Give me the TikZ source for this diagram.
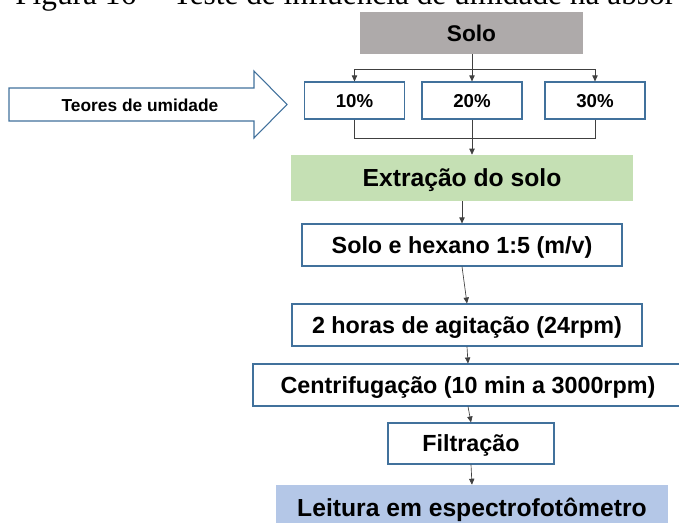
\documentclass[tikz,border=0pt]{standalone}
\usepackage{fontspec}
\setmainfont{Liberation Sans}
\newfontfamily\capfont{Liberation Serif}
\usetikzlibrary{arrows.meta}
\definecolor{boxblue}{RGB}{65,113,156}
\definecolor{sologray}{RGB}{174,170,170}
\definecolor{extgreen}{RGB}{197,224,180}
\definecolor{leitblue}{RGB}{180,199,231}
\begin{document}
\begin{tikzpicture}[x=0.75pt,y=-0.75pt,
  stepbox/.style={draw=boxblue,line width=0.8pt,fill=white,inner sep=0pt,text height=12.6pt,text depth=0pt,font=\bfseries\fontsize{17.5pt}{20pt}\selectfont},
  headbox/.style={inner sep=0pt,text height=13.3pt,text depth=0pt,font=\bfseries\fontsize{18.5pt}{21pt}\selectfont},
  pctbox/.style={stepbox,minimum width=75pt,minimum height=27.75pt,text height=10.1pt,font=\bfseries\fontsize{14pt}{16pt}\selectfont},
  conn/.style={black!75,line width=0.5pt},
  tip/.style={conn,-{Triangle[length=4.5pt,width=4pt]}}]
  \useasboundingbox (0,0) rectangle (679,522);
  \clip (0,0) rectangle (679,522);
  % caption
  \node[anchor=base west,inner sep=0pt,font=\capfont\fontsize{23.5pt}{26pt}\selectfont] (cap) at (15,4.5) {Figura 16 -- Teste de influência de umidade na absor};
  \node[headbox,fill=sologray,minimum width=167.25pt,minimum height=31.5pt,text height=12.2pt,font=\bfseries\fontsize{17pt}{20pt}\selectfont] (solo) at (471.5,33) {Solo};
  \node[pctbox] (p10) at (354.5,100.5) {10\%};
  \node[pctbox] (p20) at (472,100.5) {20\%};
  \node[pctbox] (p30) at (595,100.5) {30\%};
  \draw[draw=boxblue,line width=0.8pt,fill=white] (9,88) -- (254,88) -- (254,71) -- (287,104.5) -- (254,138) -- (254,121) -- (9,121) -- cycle;
  \node[inner sep=0pt,text height=9.4pt,text depth=0pt,font=\bfseries\fontsize{13pt}{15pt}\selectfont] (teores) at (140,105) {Teores de umidade};
  \node[headbox,fill=extgreen,minimum width=256.5pt,minimum height=34.5pt] (extr) at (462,178) {Extração do solo};
  \node[stepbox,minimum width=240pt,minimum height=31.5pt] (hexano) at (462,245) {Solo e hexano 1:5 (m/v)};
  \node[stepbox,minimum width=262.5pt,minimum height=31.5pt] (agit) at (467,325) {2 horas de agitação (24rpm)};
  \node[stepbox,minimum width=322.5pt,minimum height=31.5pt] (centr) at (468,385) {Centrifugação (10 min a 3000rpm)};
  \node[stepbox,minimum width=124.5pt,minimum height=30.75pt] (filt) at (471,443.5) {Filtração};
  \node[headbox,fill=leitblue,minimum width=294pt,minimum height=34.5pt] (leit) at (472,508) {Leitura em espectrofotômetro};
  \coordinate (split) at (472,69);
  \coordinate (merge) at (472,138);
  \draw[tip] (solo.south -| p20.north) -- (p20.north);
  \draw[tip] (split) -| (p10.north);
  \draw[tip] (split) -| (p30.north);
  \draw[conn] (p10.south) |- (merge);
  \draw[conn] (p30.south) |- (merge);
  \draw[tip] (p20.south) -- (p20.south |- extr.north);
  \draw[tip] (extr.south) -- (hexano.north);
  \draw[tip] (hexano.south) -- (agit.north);
  \draw[tip] (agit.south) -- (centr.north);
  \draw[tip] (centr.south) -- (filt.north);
  \draw[tip] (filt.south) -- (leit.north);
\end{tikzpicture}
\end{document}
